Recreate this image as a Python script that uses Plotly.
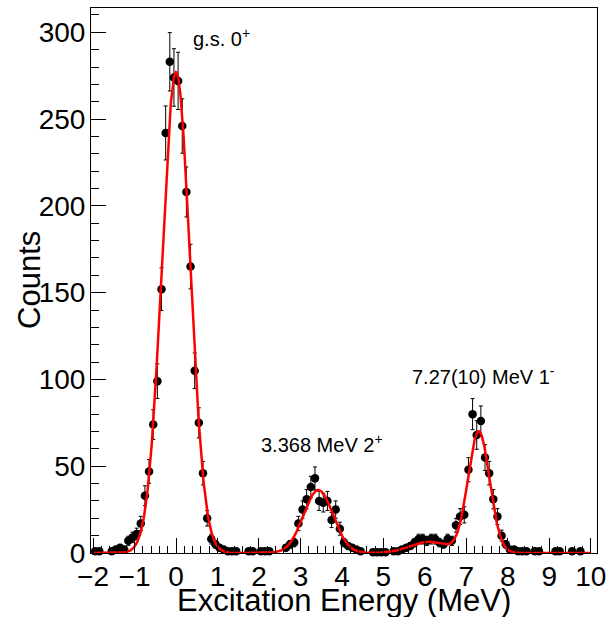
import numpy as np
import plotly.graph_objects as go

# Excitation-energy spectrum: 0.1 MeV bins from -2 to 10 MeV (bin centres)
energy = [round(-1.95 + 0.1 * i, 2) for i in range(120)]

# Counts per bin (None = empty bin, not drawn)
counts = [
    1, 1, None, None, 1, 2, 3, 2, 7, 9,            # -1.95 .. -1.05
    11, 17, 33, 47, 74, 99, 152, 242, 283, 274,     # -0.95 .. -0.05
    272, 246, 208, 165, 105, 75, 46, 20, 8, 5,      # 0.05 .. 0.95
    3, 2, 1, 1, 1, None, None, 1, 1, None,          # 1.05 .. 1.95
    1, 1, 1, None, None, None, 3, 5, 6, 17,         # 2.05 .. 2.95
    25, 31, 38, 43, 30, 29, 30, 19, 25, 14,         # 3.05 .. 3.95
    6, 4, 3, 2, 1, None, None, 0.5, 0.5, 0.5,       # 4.05 .. 4.95
    0.5, None, 1, 1, 2, 3, 4, 6, 8, 8,              # 5.05 .. 5.95
    7, 8, 8, 6, 5, 8, 7, 16, 21, 22,                # 6.05 .. 6.95
    48, 80, 68, 76, 55, 46, 31, 21, 10, 5,          # 7.05 .. 7.95
    2, 2, 1, 1, 1, None, 1, 1, None, None,          # 8.05 .. 8.95
    None, 1, 1, None, None, 1, None, 1, None, None, # 9.05 .. 9.95
]

# Poisson uncertainties
errors = [None if c is None else float(np.sqrt(c)) for c in counts]

# Fit: sum of Gaussians (amplitude, centroid [MeV], sigma [MeV])
fit_amplitudes = [277.0, 36.3, 6.5, 70.0]
fit_centroids = [0.0, 3.43, 6.1, 7.30]
fit_sigmas = [0.34, 0.355, 0.45, 0.26]

e_fit = np.linspace(-2.0, 10.0, 1201)
y_fit = np.zeros_like(e_fit)
for a, mu, s in zip(fit_amplitudes, fit_centroids, fit_sigmas):
    y_fit += a * np.exp(-0.5 * ((e_fit - mu) / s) ** 2)

FONT = "Liberation Sans, Arial, Helvetica, sans-serif"

fig = go.Figure()
fig.add_trace(go.Scatter(
    x=energy, y=counts, mode="markers",
    marker=dict(color="black", size=8.5, symbol="circle"),
    error_y=dict(type="data", array=errors, visible=True,
                 color="black", thickness=1, width=2),
    cliponaxis=False, showlegend=False,
))
fig.add_trace(go.Scatter(
    x=e_fit, y=y_fit, mode="lines",
    line=dict(color="#ff0000", width=2.5),
    showlegend=False,
))

axis_common = dict(
    showline=True, mirror=True, linecolor="black", linewidth=1,
    showgrid=False, zeroline=False,
    ticks="inside", ticklen=15, tickwidth=1, tickcolor="black",
    tickfont=dict(family=FONT, size=28, color="black"),
)

fig.update_xaxes(
    range=[-2.05, 10.15], tick0=0, dtick=1,
    minor=dict(ticks="inside", ticklen=7.5, dtick=0.2, tick0=0,
               tickcolor="black", tickwidth=1, showgrid=False),
    ticklabelstandoff=-2,
    **axis_common,
)
fig.update_yaxes(
    range=[0, 314], tick0=0, dtick=50,
    minor=dict(ticks="inside", ticklen=7.5, dtick=10, tick0=0,
               tickcolor="black", tickwidth=1, showgrid=False),
    ticklabelstandoff=-1,
    **axis_common,
)

annotations = [
    dict(text="Counts", xref="paper", yref="paper", x=-0.1206, y=0.501,
         textangle=-90, showarrow=False, xanchor="center", yanchor="middle",
         font=dict(family=FONT, size=31, color="black")),
    dict(text="Excitation Energy (MeV)", xref="paper", yref="paper",
         x=0.5, y=-0.088, showarrow=False, xanchor="center", yanchor="middle",
         font=dict(family=FONT, size=31, color="black")),
    dict(text="g.s. 0<sup>+</sup>", x=0.35, y=297, showarrow=False,
         xanchor="left", yanchor="middle",
         font=dict(family=FONT, size=20, color="black")),
    dict(text="3.368 MeV 2<sup>+</sup>", x=1.99, y=63, showarrow=False,
         xanchor="left", yanchor="middle",
         font=dict(family=FONT, size=20, color="black")),
    dict(text="7.27(10) MeV 1<sup>-</sup>", x=5.64, y=102, showarrow=False,
         xanchor="left", yanchor="middle",
         font=dict(family=FONT, size=20, color="black")),
]

fig.update_layout(
    width=615, height=617,
    margin=dict(l=91, r=18, t=8, b=64, autoexpand=False),
    paper_bgcolor="white", plot_bgcolor="white",
    annotations=annotations,
    showlegend=False,
)

fig.write_html("out.html")
